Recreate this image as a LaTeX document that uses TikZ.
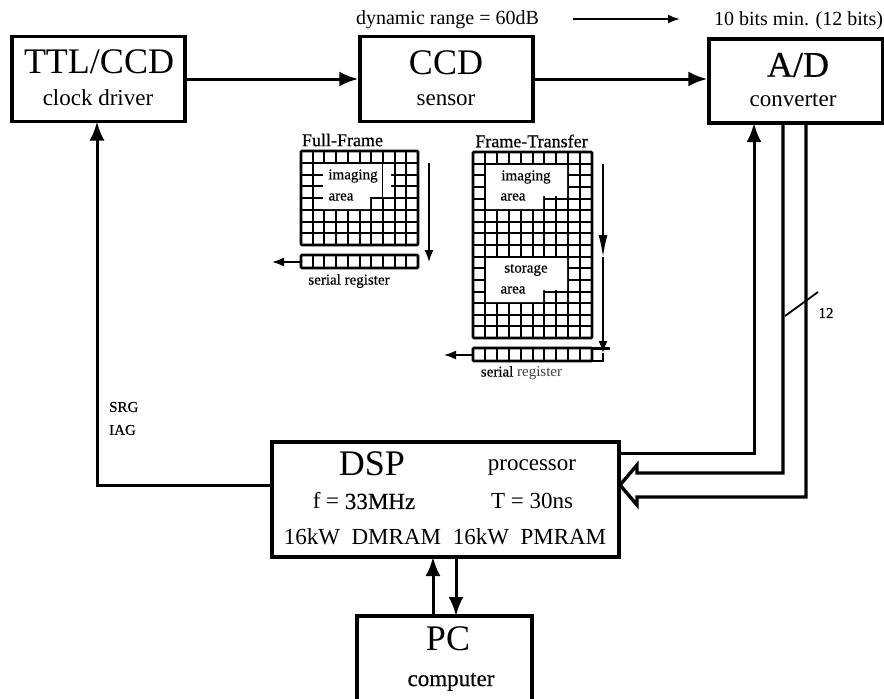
\documentclass[tikz,border=0pt]{standalone}
\usepackage{fontspec}
\setmainfont{Liberation Serif}
\newfontfamily\inkfont[FakeBold=0.5]{Liberation Serif}
\usetikzlibrary{arrows.meta}
\tikzset{
  blockbox/.style={draw,line width=3.4pt,inner sep=0pt},
  hugetext/.style={font=\fontsize{36}{40}\selectfont,inner sep=0pt},
  bodytext/.style={font=\fontsize{23}{26}\selectfont,inner sep=0pt},
  uppertext/.style={font=\fontsize{20}{23}\selectfont,inner sep=0pt},
  smalltext/.style={font=\inkfont\fontsize{15}{17}\selectfont,inner sep=0pt},
  titletext/.style={font=\inkfont\fontsize{18}{20}\selectfont,inner sep=0pt},
  mainarrow/.style={line width=3pt,-{Latex[length=19pt,width=15pt]}},
  thinarrow/.style={line width=1.6pt,-{Latex[length=12pt,width=9pt]}},
  longarrow/.style={line width=1.6pt,-{Latex[length=22pt,width=9pt]}},
  gridline/.style={line width=2pt},
  gridframe/.style={line width=2.8pt,rounded corners=1pt}
}
\begin{document}
\begin{tikzpicture}[x=1pt,y=-1pt]
\useasboundingbox (0,0) rectangle (884,699);
\clip (0,0) rectangle (884,699);
% blocks
\node[blockbox,minimum width=173pt,minimum height=85pt] (ttl) at (98.5,79) {};
\node[blockbox,minimum width=173pt,minimum height=85pt] (ccd) at (446.5,79) {};
\node[blockbox,minimum width=174pt,minimum height=84pt] (ad) at (796,81) {};
\node[blockbox,minimum width=347pt,minimum height=115pt] (dsp) at (445.5,499.5) {};
\node[blockbox,minimum width=175pt,minimum height=110pt] (pc) at (444.5,671) {};
% block labels
\node[hugetext] (ttlname) at (99,62) {TTL/CCD};
\node[bodytext] (ttlnote) at (98,98) {clock driver};
\node[hugetext] (ccdname) at (446,63) {CCD};
\node[bodytext] (ccdnote) at (446,100) {sensor};
\node[hugetext,font=\inkfont\fontsize{36}{40}\selectfont] (adname) at (798,65) {A/D};
\node[bodytext] (adnote) at (793,100) {converter};
\node[hugetext] (dspname) at (372,464) {DSP};
\node[bodytext] (dspnote) at (532,468) {processor};
\node[bodytext] (dspfreq) at (364,501) {f = {\inkfont 33MHz}};
\node[bodytext] (dspcycle) at (532,501) {T = 30ns};
\node[bodytext] (dspdm) at (362.5,537) {16kW\ \ DMRAM};
\node[bodytext] (dsppm) at (529.5,537) {16kW\ \ PMRAM};
\node[hugetext] (pcname) at (448,639) {PC};
\node[bodytext,font=\inkfont\fontsize{23}{26}\selectfont] (pcnote) at (451,682) {computer};
% top line
\node[uppertext] (range) at (447.5,20) {dynamic range = 60dB};
\node[uppertext] (bits) at (798.5,21) {10 bits min. (12 bits)};
\coordinate (rangeout) at (573,19);
\coordinate (bitsin) at (680,19);
\draw[thinarrow,line width=2.2pt] (rangeout) -- (bitsin);
% connectors
\draw[mainarrow] (ttl.east) -- (ccd.west);
\draw[mainarrow] (ccd.east) -- (ccd.east -| ad.west);
\coordinate (ttlin) at (97,121.5);
\coordinate (dspleft) at (272,485);
\coordinate (adin) at (754,123);
\coordinate (dspupper) at (619,453);
\draw[mainarrow] (dspleft) -| (ttlin);
\draw[mainarrow] (dspupper) -| (adin);
\coordinate (dspup) at (433,557);
\coordinate (pcup) at (433,616);
\coordinate (dspdown) at (456,557);
\coordinate (pcdown) at (456,616);
\draw[mainarrow] (pcup) -- (dspup);
\draw[mainarrow] (dspdown) -- (pcdown);
% data bus into the processor
\coordinate (busa) at (783,123);
\coordinate (busb) at (806,123);
\coordinate (bustip) at (620,485);
\draw[line width=3.4pt,miter limit=6] (busa) -- (783,473) -- (637,473) -- (637,465) -- (bustip)
  -- (637,505) -- (637,497) -- (806,497) -- (busb);
\coordinate (slasha) at (785,316);
\coordinate (slashb) at (818,292);
\draw[line width=1.8pt] (slasha) -- (slashb);
\node[smalltext] (buswidth) at (826,313) {12};
\node[smalltext,anchor=west] (srg) at (109,407) {SRG};
\node[smalltext,anchor=west] (iag) at (109,430) {IAG};
% full frame sensor
\node[titletext] (fftitle) at (342.5,140) {Full-Frame};
\foreach \k in {0,...,10} \draw[gridline] ({301+11.7*\k},151) -- ({301+11.7*\k},245);
\foreach \k in {0,...,8} \draw[gridline] (301,{151+11.75*\k}) -- (418,{151+11.75*\k});
\fill[white] (323,164) -- (391,164) -- (391,197) -- (383.5,197) -- (370,197) -- (370,209) -- (323,209) -- cycle;
\draw[line width=1pt] (382.9,164) -- (382.9,197) -- (370,197);
\draw[gridframe] (301,151) rectangle (418,245);
\node[smalltext] (ffimg) at (353,176) {imaging};
\node[smalltext] (ffarea) at (341,197) {area};
\foreach \k in {0,...,10} \draw[gridline] ({301+11.7*\k},255) -- ({301+11.7*\k},268);
\draw[gridframe] (301,255) rectangle (418,268);
\coordinate (ffshift) at (429,163);
\coordinate (ffshiftend) at (429,262);
\draw[thinarrow] (ffshift) -- (ffshiftend);
\coordinate (ffout) at (301,262);
\coordinate (ffoutend) at (272,262);
\draw[thinarrow] (ffout) -- (ffoutend);
\node[smalltext] (ffreg) at (349,281) {serial register};
% frame transfer sensor
\node[titletext] (fttitle) at (531.5,141) {Frame-Transfer};
\foreach \k in {0,...,10} \draw[gridline] ({473+11.9*\k},152) -- ({473+11.9*\k},338);
\foreach \k in {0,...,16} \draw[gridline] (473,{152+11.625*\k}) -- (592,{152+11.625*\k});
\fill[white] (486,165) -- (567,165) -- (567,196) -- (543,196) -- (543,209) -- (486,209) -- cycle;
\fill[white] (486,258) -- (567,258) -- (567,290) -- (543,290) -- (543,302) -- (486,302) -- cycle;
\draw[line width=2.6pt] (473,245) -- (592,245);
\draw[gridframe] (473,152) rectangle (592,338);
\node[smalltext] (ftimg) at (526,177) {imaging};
\node[smalltext] (ftarea) at (513,197) {area};
\node[smalltext] (ftstore) at (526,270) {storage};
\node[smalltext] (ftarea2) at (513,290) {area};
\foreach \k in {0,...,10} \draw[gridline] ({473+11.9*\k},348) -- ({473+11.9*\k},361);
\draw[gridframe] (473,348) rectangle (592,361);
\draw[line width=2pt] (592,361) -- (603,361);
\draw[line width=3pt] (592,348) -- (610,348);
\coordinate (ftshift) at (603,164);
\coordinate (ftshiftend) at (603,257);
\coordinate (ftshiftlow) at (603,353);
\coordinate (ftshifttail) at (603,362);
\draw[longarrow] (ftshift) -- (ftshiftend);
\draw[thinarrow] (ftshiftend) -- (ftshiftlow);
\draw[line width=1.6pt] (ftshiftlow) -- (ftshifttail);
\coordinate (ftout) at (473,355);
\coordinate (ftoutend) at (444,355);
\draw[thinarrow] (ftout) -- (ftoutend);
\node[smalltext,font=\fontsize{15}{17}\selectfont,text=black!75] (ftreg) at (521.5,373) {{\inkfont\color{black} serial} register};
\end{tikzpicture}
\end{document}
